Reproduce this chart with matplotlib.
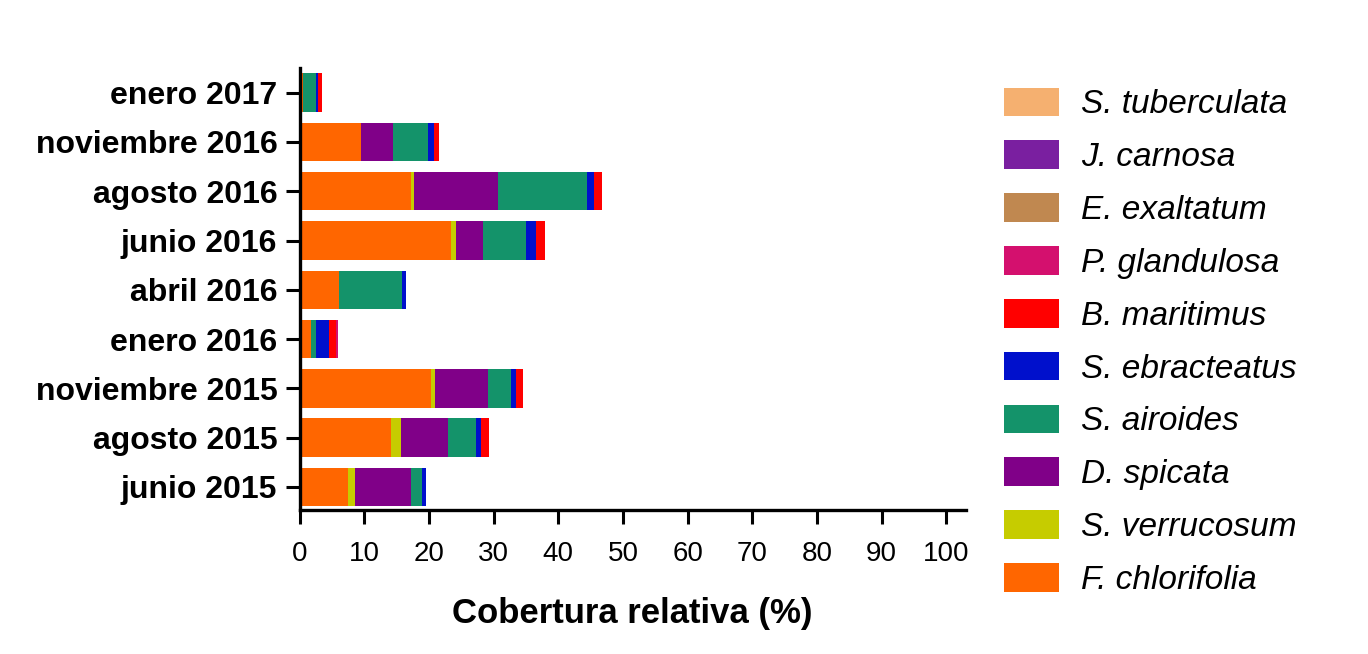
import numpy as np
import matplotlib.pyplot as plt

plt.rcParams["font.family"] = ["Liberation Sans", "DejaVu Sans"]

fechas = ["junio 2015", "agosto 2015", "noviembre 2015", "enero 2016",
          "abril 2016", "junio 2016", "agosto 2016", "noviembre 2016",
          "enero 2017"]

# stacking order, left to right
especies = ["F. chlorifolia", "S. verrucosum", "D. spicata", "S. airoides",
            "S. ebracteatus", "B. maritimus", "P. glandulosa", "E. exaltatum",
            "J. carnosa", "S. tuberculata"]

colores = ["#ff6600", "#c6cc00", "#800088", "#14936a", "#0010cc",
           "#ff0000", "#d4106e", "#c08850", "#7a1fa0", "#f5b070"]

f_chlorifolia = [7.5, 14.1, 20.3, 1.8, 6.1, 23.4, 17.2, 9.5, 0.5]
s_verrucosum = [1.0, 1.6, 0.7, 0.0, 0.0, 0.8, 0.5, 0.0, 0.0]
d_spicata = [8.7, 7.2, 8.1, 0.0, 0.0, 4.1, 12.9, 4.9, 0.0]
s_airoides = [1.7, 4.4, 3.6, 0.7, 9.8, 6.7, 13.9, 5.4, 2.1]
s_ebracteatus = [0.7, 0.7, 0.7, 2.1, 0.6, 1.5, 1.0, 1.0, 0.3]
b_maritimus = [0.0, 1.3, 1.1, 1.0, 0.0, 1.5, 1.2, 0.8, 0.6]
p_glandulosa = [0.0, 0.0, 0.0, 0.4, 0.0, 0.0, 0.0, 0.0, 0.0]
e_exaltatum = [0.0] * 9
j_carnosa = [0.0] * 9
s_tuberculata = [0.0] * 9

valores = [f_chlorifolia, s_verrucosum, d_spicata, s_airoides, s_ebracteatus,
           b_maritimus, p_glandulosa, e_exaltatum, j_carnosa, s_tuberculata]


def main():
    fig = plt.figure(figsize=(13.68, 6.54), dpi=100)
    ax = fig.add_axes([0.219, 0.22, 0.487, 0.676])

    y = np.arange(len(fechas))
    left = np.zeros(len(fechas))
    for nombre, vals, col in zip(especies, valores, colores):
        vals = np.array(vals)
        ax.barh(y, vals, left=left, height=0.78, color=col, label=nombre,
                linewidth=0)
        left += vals

    ax.set_xlim(0, 103)
    ax.set_ylim(-0.47, 8.5)
    ax.set_xticks(np.arange(0, 101, 10))
    ax.set_yticks(y)
    ax.set_yticklabels(fechas, fontsize=23, fontweight="bold")
    ax.tick_params(axis="x", labelsize=20, length=10, width=2.2, pad=12)
    ax.tick_params(axis="y", length=10, width=2.2, pad=6)
    for s in ["top", "right"]:
        ax.spines[s].set_visible(False)
    for s in ["left", "bottom"]:
        ax.spines[s].set_linewidth(2.4)

    ax.set_xlabel("Cobertura relativa (%)", fontsize=25, fontweight="bold",
                  labelpad=22)

    h, l = ax.get_legend_handles_labels()
    fig.legend(h[::-1], l[::-1], loc="upper left",
               bbox_to_anchor=(0.712, 0.912), frameon=False,
               prop={"style": "italic", "size": 24},
               handlelength=1.65, handleheight=0.95,
               labelspacing=0.6, handletextpad=0.65)

    fig.savefig("out.png", dpi=100)


if __name__ == "__main__":
    main()
